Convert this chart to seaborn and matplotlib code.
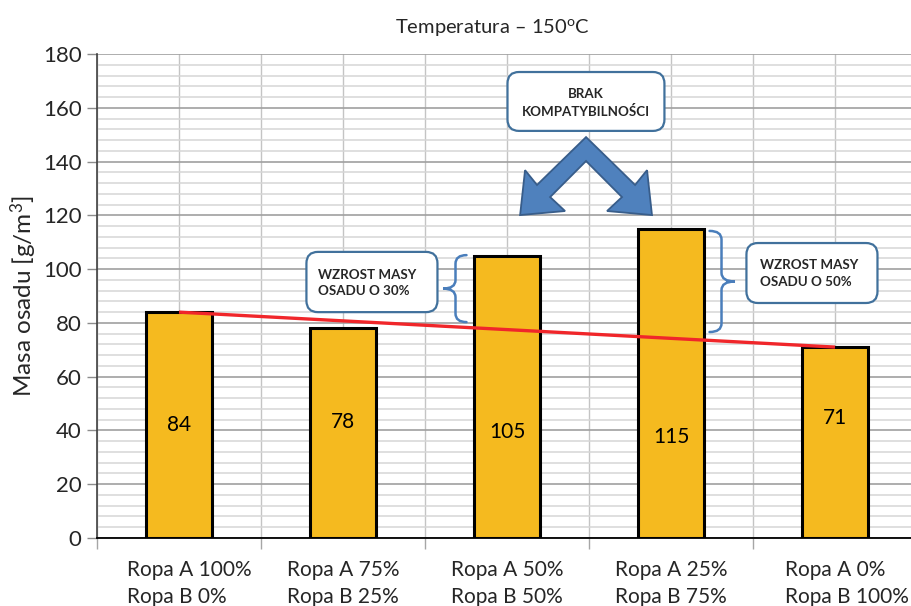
import numpy as np
import pandas as pd
import matplotlib
matplotlib.use("Agg")
import matplotlib.pyplot as plt
import matplotlib.transforms as mtransforms
import seaborn as sns
from matplotlib.patches import FancyBboxPatch, Polygon, PathPatch
from matplotlib.path import Path
from matplotlib.ticker import MultipleLocator

# ---- data -------------------------------------------------------------
categories = [
    "Ropa A 100%\nRopa B 0%",
    "Ropa A 75%\nRopa B 25%",
    "Ropa A 50%\nRopa B 50%",
    "Ropa A 25%\nRopa B 75%",
    "Ropa A 0%\nRopa B 100%",
]
masa_osadu = [84, 78, 105, 115, 71]
title_text = "Temperatura – 150$^{\\mathrm{o}}$C"
ylabel_text = "Masa osadu [g/m$^{3}$]"
callout_30 = "WZROST MASY\nOSADU O 30%"
callout_50 = "WZROST MASY\nOSADU O 50%"
callout_brak = "BRAK\nKOMPATYBILNOŚCI"

# vertical placement of the value labels inside the bars
label_y = [42, 43, 39.5, 37.5, 44.5]
# horizontal nudge (pixels) of the category labels
label_dx = [10, 0, 0, 0, 12]

# ---- style ------------------------------------------------------------
sns.set_theme(style="white")
plt.rcParams["font.family"] = ["Lato", "DejaVu Sans"]
plt.rcParams["mathtext.fontset"] = "custom"
plt.rcParams["mathtext.rm"] = "Lato"
plt.rcParams["mathtext.it"] = "Lato:italic"
plt.rcParams["mathtext.bf"] = "Lato:bold"

BAR_COLOR = "#F5BA1F"
BOX_EDGE = "#41719C"
ARROW_FILL = "#4F81BD"
ARROW_EDGE = "#385D8A"
BRACE = "#4A7EBB"

fig = plt.figure(figsize=(9.11, 6.06), dpi=100)
ax = fig.add_axes([97 / 911, 68 / 606, 820 / 911, 484 / 606])

df = pd.DataFrame({"kategoria": categories, "masa": masa_osadu})
sns.barplot(data=df, x="kategoria", y="masa", color=BAR_COLOR, width=0.4,
            edgecolor="black", linewidth=2.2, saturation=1, ax=ax, zorder=3)

# trend line between the first and last mixture
ax.plot([0, len(masa_osadu) - 1], [masa_osadu[0], masa_osadu[-1]],
        color="#F0262A", linewidth=2.4, zorder=5, solid_capstyle="butt")

# value labels
for i, v in enumerate(masa_osadu):
    ax.text(i, label_y[i], f"{v}", ha="center", va="center",
            fontsize=15, color="black", zorder=6)

# ---- axes -------------------------------------------------------------
ax.set_xlim(-0.5, len(categories) - 0.5)
ax.set_ylim(0, 180)
ax.yaxis.set_major_locator(MultipleLocator(20))
ax.yaxis.set_minor_locator(MultipleLocator(4))
ax.set_xticks(range(len(categories)))
ax.set_xticks(np.arange(-0.5, len(categories), 1.0), minor=True)
ax.set_xticklabels([])
ax.set_xlabel("")

# category labels drawn below the axis, each block left-aligned
label_base = ax.get_xaxis_transform()
for i, (cat, dx) in enumerate(zip(categories, label_dx)):
    off = mtransforms.ScaledTranslation(dx / 100, -22 / 100,
                                        fig.dpi_scale_trans)
    ax.text(i, 0, cat, transform=label_base + off, ha="center", va="top",
            fontsize=15, linespacing=1.42, multialignment="left",
            clip_on=False)

ax.set_ylabel(ylabel_text, fontsize=17.5, labelpad=3)
ax.tick_params(axis="x", which="major", length=0)
ax.tick_params(axis="x", which="minor", length=8, width=1, color="#A6A6A6",
               direction="out", bottom=True)
ax.tick_params(axis="y", which="major", length=7, width=1, color="#8C8C8C",
               direction="out", labelsize=16, pad=4, left=True)
ax.tick_params(axis="y", which="minor", length=0)

ax.grid(axis="y", which="major", color="#A0A0A0", linewidth=1.2)
ax.grid(axis="y", which="minor", color="#D6D6D6", linewidth=1.1)
ax.grid(axis="x", which="minor", color="#C4C4C4", linewidth=1.0)
ax.grid(axis="x", which="major", color="#C4C4C4", linewidth=1.0)
ax.set_axisbelow(True)

for side in ("top", "right"):
    ax.spines[side].set_visible(False)
ax.spines["left"].set_color("#404040")
ax.spines["left"].set_linewidth(1.2)
ax.spines["bottom"].set_color("black")
ax.spines["bottom"].set_linewidth(1.3)

fig.text(492 / 911, 1 - 27 / 606, title_text, ha="center", va="center",
         fontsize=14.5)

# ---- callouts ---------------------------------------------------------
def callout(x0, x1, y0, y1, text, tx, ty, ha):
    box = FancyBboxPatch((x0, y0), x1 - x0, y1 - y0,
                         boxstyle="round,pad=0,rounding_size=0.07",
                         mutation_aspect=61, facecolor="white",
                         edgecolor=BOX_EDGE, linewidth=1.6, zorder=7)
    ax.add_patch(box)
    ax.text(tx, ty, text, ha=ha, va="center", fontsize=9.6, fontweight="bold",
            linespacing=1.45, multialignment=ha, zorder=8)


def brace(x_line, x_hook, x_nub, y_top, y_bot, r=3.2):
    mid = (y_top + y_bot) / 2
    verts = [
        (x_hook, y_top), (x_line, y_top), (x_line, y_top - r),
        (x_line, mid + r), (x_line, mid), (x_nub, mid),
        (x_line, mid), (x_line, mid - r),
        (x_line, y_bot + r), (x_line, y_bot), (x_hook, y_bot),
    ]
    codes = [Path.MOVETO, Path.CURVE3, Path.CURVE3,
             Path.LINETO, Path.CURVE3, Path.CURVE3,
             Path.CURVE3, Path.CURVE3,
             Path.LINETO, Path.CURVE3, Path.CURVE3]
    ax.add_patch(PathPatch(Path(verts, codes), facecolor="none",
                           edgecolor=BRACE, linewidth=1.8, zorder=7,
                           capstyle="round"))


callout(0.777, 1.576, 84.0, 106.4, callout_30, 0.845, 94.9, "left")
brace(1.686, 1.753, 1.610, 105.2, 80.3)

callout(3.460, 4.259, 87.4, 109.7, callout_50, 3.540, 98.3, "left")
brace(3.308, 3.235, 3.390, 114.2, 76.6)

callout(2.003, 2.960, 151.4, 173.3, callout_brak, 2.482, 161.8, "center")

# double chevron arrow pointing at the two mixtures
arrow_pts = [
    (2.482, 149.1), (2.781, 131.3), (2.854, 136.8), (2.884, 120.1),
    (2.610, 121.6), (2.701, 126.8), (2.482, 140.2), (2.263, 126.8),
    (2.354, 121.6), (2.080, 120.1), (2.110, 136.8), (2.183, 131.3),
]
ax.add_patch(Polygon(arrow_pts, closed=True, facecolor=ARROW_FILL,
                     edgecolor=ARROW_EDGE, linewidth=1.3, zorder=7,
                     joinstyle="miter"))

fig.savefig("out.png", dpi=100)
